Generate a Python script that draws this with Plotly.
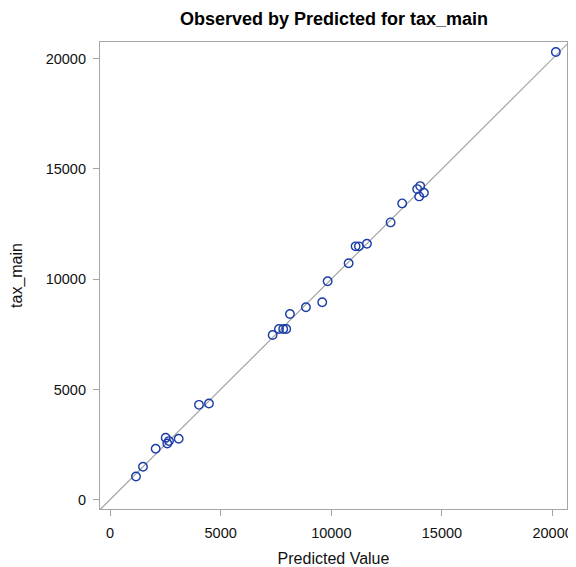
import plotly.graph_objects as go

# Data
predicted = [1174, 1491, 2064, 2516, 2588, 2665, 3103, 4020, 4472,
             7349, 7634, 7828, 7963, 8131, 8853, 9590, 9834, 10782,
             11098, 11247, 11609, 12679, 13203, 13881, 14016, 14183, 13971,
             20146]
observed = [1055, 1494, 2309, 2807, 2549, 2658, 2762, 4302, 4361,
            7471, 7743, 7743, 7743, 8422, 8725, 8952, 9903, 10718,
            11487, 11487, 11605, 12574, 13435, 14082, 14218, 13915, 13752,
            20299]
tick_vals = [0, 5000, 10000, 15000, 20000]
x_range = [-452, 20650]
y_range = [-421, 20752]

FONT = "Liberation Sans, Arial, sans-serif"
GRAY = "#A5A5A5"
BLUE = "#1A3CA8"

# The page body has an 8px default margin, so the figure is made 8px smaller
W, H = 568, 559

fig = go.Figure()

# y = x reference line across the axes
lo = min(x_range[0], y_range[0])
hi = max(x_range[1], y_range[1])
fig.add_trace(go.Scatter(x=[lo, hi], y=[lo, hi], mode="lines",
                         line=dict(color=GRAY, width=1.2),
                         hoverinfo="skip", showlegend=False))

fig.add_trace(go.Scatter(x=predicted, y=observed, mode="markers",
                         marker=dict(symbol="circle-open", size=8.5,
                                     color=BLUE, line=dict(width=1.4, color=BLUE)),
                         showlegend=False))

axis_common = dict(showgrid=False, zeroline=False, showline=True, mirror=True,
                   linecolor=GRAY, linewidth=1.2, ticks="outside", ticklen=6,
                   tickcolor=GRAY, tickwidth=1.2, tickvals=tick_vals,
                   tickformat="d",
                   tickfont=dict(family=FONT, size=14.5, color="#111111"))

fig.update_layout(
    width=W, height=H,
    margin=dict(l=92, r=8.5, t=33.7, b=57.7, autoexpand=False),
    paper_bgcolor="white", plot_bgcolor="white",
    title=dict(text="<b>Observed by Predicted for tax_main</b>",
               x=326 / W, xanchor="center",
               y=1 - 11 / H, yanchor="middle", yref="container",
               font=dict(family=FONT, size=18, color="black")),
    xaxis=dict(range=x_range, title=dict(text="Predicted Value", standoff=13,
                                         font=dict(family=FONT, size=16, color="#111111")),
               ticklabelstandoff=4, **axis_common),
    yaxis=dict(range=y_range, title=dict(text="tax_main", standoff=22,
                                         font=dict(family=FONT, size=16, color="#111111")),
               ticklabelstandoff=4, **axis_common),
)

fig.write_html("out.html")
